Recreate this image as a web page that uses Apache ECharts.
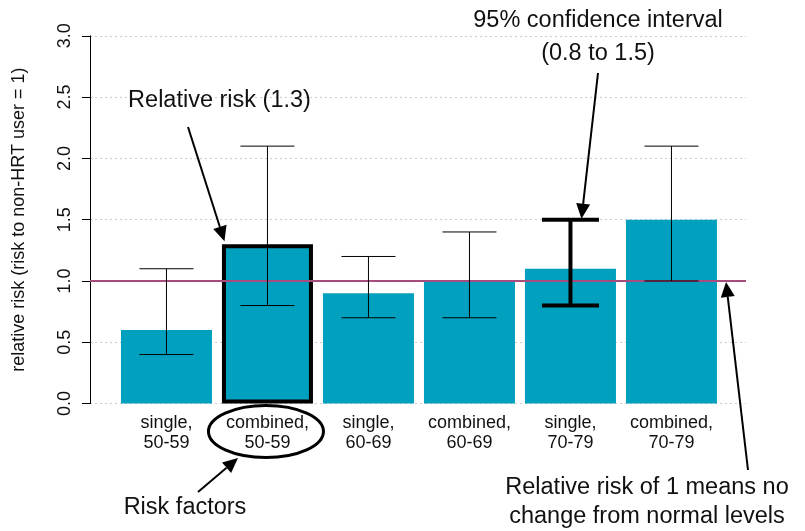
<!DOCTYPE html>
<html>
<head>
<meta charset="utf-8">
<script src="https://cdn.jsdelivr.net/npm/echarts@6/dist/echarts.min.js"></script>
<style>
html,body{margin:0;padding:0;background:#fff;}
#chart{width:805px;height:531px;}
</style>
</head>
<body>
<div id="chart"></div>
<script>
// ---- data ----
var categories = ['single,\n50-59', 'combined,\n50-59', 'single,\n60-69', 'combined,\n60-69', 'single,\n70-79', 'combined,\n70-79'];
var relativeRisk = [0.6, 1.3, 0.9, 1.0, 1.1, 1.5];
var ciLow = [0.4, 0.8, 0.7, 0.7, 0.8, 1.0];
var ciHigh = [1.1, 2.1, 1.2, 1.4, 1.5, 2.1];
var yTicks = [0, 0.5, 1.0, 1.5, 2.0, 2.5, 3.0];
var referenceLevel = 1;
var highlightBar = 1;     // bar with thick outline
var highlightCI = 4;      // error bar drawn thick

var positions = categories.map(function (c, i) { return i + 1; });

var barData = relativeRisk.map(function (v, i) {
  var item = { value: [positions[i], v] };
  if (i === highlightBar) {
    item.itemStyle = { borderColor: '#000', borderWidth: 4 };
  }
  return item;
});
var ciData = ciLow.map(function (lo, i) {
  return [positions[i], lo, ciHigh[i], i === highlightCI ? 1 : 0];
});

var chart = echarts.init(document.getElementById('chart'), null, { renderer: 'canvas' });
var FONT = '"Liberation Sans", Arial, sans-serif';
var AXFS = 18;

var option = {
  animation: false,
  backgroundColor: '#fff',
  grid: { left: 90, right: 59, top: 35.8, bottom: 127.4, outerBoundsMode: 'none', containLabel: false },
  xAxis: {
    type: 'value',
    min: 0.243,
    max: 6.738,
    axisLine: { show: false },
    axisTick: { show: false },
    splitLine: { show: false },
    axisLabel: {
      customValues: positions,
      formatter: function (v) { return categories[Math.round(v) - 1]; },
      fontFamily: FONT,
      fontSize: AXFS,
      lineHeight: 20,
      color: '#111',
      margin: 9,
      align: 'center'
    }
  },
  yAxis: {
    type: 'value',
    min: yTicks[0],
    max: yTicks[yTicks.length - 1],
    interval: 0.5,
    name: 'relative risk (risk to non-HRT user = 1)',
    nameLocation: 'middle',
    nameRotate: 90,
    nameGap: 62,
    nameTextStyle: { fontFamily: FONT, fontSize: AXFS, color: '#111' },
    axisLine: { show: true, lineStyle: { color: '#000', width: 1 } },
    axisTick: { show: true, inside: false, length: 8, lineStyle: { color: '#000' } },
    axisLabel: {
      rotate: 90,
      fontFamily: FONT,
      fontSize: AXFS,
      color: '#111',
      margin: 16,
      formatter: function (v) { return v.toFixed(1); }
    },
    splitLine: { show: true, lineStyle: { color: '#cccccc', type: [2, 3], width: 1 } }
  },
  series: [
    {
      type: 'bar',
      barWidth: 91,
      itemStyle: { color: '#00A0BE' },
      data: barData,
      z: 2,
      markLine: {
        silent: true,
        symbol: ['none', 'none'],
        label: { show: false },
        lineStyle: { color: '#A64D7E', width: 2, type: 'solid' },
        data: [{ yAxis: referenceLevel }],
        z: 3
      }
    },
    {
      type: 'custom',
      z: 5,
      data: ciData,
      renderItem: function (params, api) {
        var x = api.value(0);
        var lo = api.coord([x, api.value(1)]);
        var hi = api.coord([x, api.value(2)]);
        var thick = api.value(3) === 1;
        var w = thick ? 4 : 1;
        var half = thick ? 28.5 : 27;
        var st = { stroke: '#000', lineWidth: w };
        return {
          type: 'group',
          children: [
            { type: 'line', shape: { x1: lo[0], y1: lo[1], x2: hi[0], y2: hi[1] }, style: st },
            { type: 'line', shape: { x1: hi[0] - half, y1: hi[1], x2: hi[0] + half, y2: hi[1] }, style: st },
            { type: 'line', shape: { x1: lo[0] - half, y1: lo[1], x2: lo[0] + half, y2: lo[1] }, style: st }
          ]
        };
      }
    }
  ]
};
chart.setOption(option);

// ---- annotations ----
function arrow(x1, y1, x2, y2) {
  var dx = x2 - x1, dy = y2 - y1;
  var len = Math.sqrt(dx * dx + dy * dy);
  var ux = dx / len, uy = dy / len;
  var hl = 15, hw = 7;
  var bx = x2 - ux * hl, by = y2 - uy * hl;
  return [
    { type: 'line', shape: { x1: x1, y1: y1, x2: bx, y2: by }, style: { stroke: '#000', lineWidth: 2 }, z: 10 },
    { type: 'polygon', shape: { points: [[x2, y2], [bx - uy * hw, by + ux * hw], [bx + uy * hw, by - ux * hw]] },
      style: { fill: '#000' }, z: 10 }
  ];
}
function text(str, x, y, align) {
  return { type: 'text', x: x, y: y, z: 10,
    style: { text: str, font: '23.5px ' + FONT, fill: '#111', textAlign: align || 'center', textVerticalAlign: 'middle' } };
}

var barTop2 = chart.convertToPixel({ xAxisIndex: 0, yAxisIndex: 0 }, [positions[highlightBar], relativeRisk[highlightBar]]);
var ciTop5 = chart.convertToPixel({ xAxisIndex: 0, yAxisIndex: 0 }, [positions[highlightCI], ciHigh[highlightCI]]);
var refEnd = chart.convertToPixel({ xAxisIndex: 0, yAxisIndex: 0 }, [6.55, referenceLevel]);
var lbl2 = chart.convertToPixel({ xAxisIndex: 0, yAxisIndex: 0 }, [positions[highlightBar], 0]);

var g = [];
g.push(text('Relative risk (1.3)', 219.5, 101));
g = g.concat(arrow(188, 127, barTop2[0] - 43, barTop2[1] - 3));
g.push(text('95% confidence interval', 598, 21));
g.push(text('(0.8 to 1.5)', 598, 54));
g = g.concat(arrow(598, 73, ciTop5[0] + 11, ciTop5[1] - 1));
g.push(text('Relative risk of 1 means no', 647, 488));
g.push(text('change from normal levels', 647, 517));
g = g.concat(arrow(748, 470, refEnd[0] - 1, refEnd[1] + 1));
g.push({ type: 'ellipse', shape: { cx: lbl2[0] - 1.5, cy: lbl2[1] + 28, rx: 57.5, ry: 26 },
  style: { fill: 'none', stroke: '#000', lineWidth: 3 }, z: 10 });
g.push(text('Risk factors', 185, 508));
g = g.concat(arrow(198, 492, 238, 458));

chart.setOption({ graphic: { elements: g } });
</script>
</body>
</html>
